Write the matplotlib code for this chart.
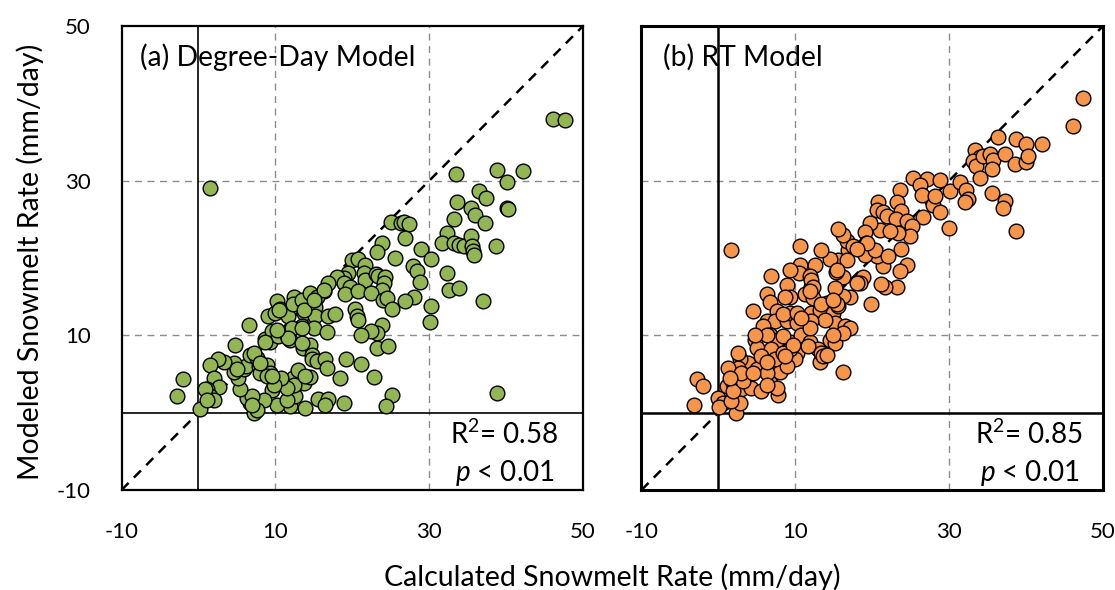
import matplotlib
matplotlib.use("Agg")
import matplotlib.pyplot as plt

plt.rcParams['font.family'] = ['Lato', 'DejaVu Sans']
plt.rcParams['mathtext.fontset'] = 'custom'
plt.rcParams['mathtext.rm'] = 'Lato'
plt.rcParams['mathtext.it'] = 'Lato:italic'

# ---------------- data ----------------
ticks = [-10, 10, 30, 50]
tick_labels = ["-10", "10", "30", "50"]
grid_vals = [10, 30]
panel_titles = ["(a) Degree-Day Model", "(b) RT Model"]
r2_texts = ["R$^2$= 0.58", "R$^2$= 0.85"]
p_text = "$p$ < 0.01"
xlabel = "Calculated Snowmelt Rate (mm/day)"
ylabel = "Modeled Snowmelt Rate (mm/day)"

dd_calc = [46.1, 47.6, 33.5, 38.8, 42.2, 40.1, 1.5, 36.4, 37.4, 33.6, 35.4, 40.1, 40.2, 36.0, 33.2, 37.3,
           25.0, 26.3, 26.7, 27.3, 26.9, 32.3, 31.7, 33.2, 33.9, 34.5, 35.4, 35.6, 35.7, 35.8, 38.7, 23.9,
           23.2, 28.9, 25.5, 30.2, 20.0, 20.8, 21.6, 21.5, 21.7, 19.4, 18.9, 18.0, 16.9, 16.3, 23.1, 23.4,
           24.3, 24.1, 23.9, 27.9, 28.4, 28.8, 32.3, 32.6, 33.9, 37.0, 28.0, 26.8, 30.2, 30.1, 18.9, 19.7,
           19.1, 20.8, 22.4, 24.0, 24.5, 25.2, 20.4, 20.6, 20.7, 23.9, 23.2, 22.4, 21.1, 23.2, 24.6, 21.1,
           22.8, 25.2, 24.4, 38.8, 19.2, 18.4, 18.9, 16.7, 15.5, 16.9, 16.5, 13.9, 11.9, 12.6, 10.2, 11.5,
           13.7, 14.5, 12.3, 13.0, 12.4, 11.5, 10.7, 9.5, 9.8, 8.5, 7.2, 7.6, 6.7, 6.3, 6.9, 5.4,
           5.2, 5.9, 6.2, 4.6, 4.6, 6.7, 7.6, 7.9, 8.9, 9.3, 8.0, 8.9, 3.3, 2.6, 1.5, 2.0,
           2.7, 1.1, 1.5, 2.0, 0.9, 0.2, -2.0, -2.8, 4.7, 6.6, 8.7, 9.3, 9.5, 10.4, 11.5, 11.9,
           9.1, 10.0, 10.2, 10.6, 11.7, 12.4, 12.3, 13.5, 13.7, 13.5, 12.2, 14.5, 15.4, 15.2, 15.2, 15.0,
           16.7, 16.9, 17.8, 16.3, 13.6, 14.5, 14.8, 14.8, 15.4, 16.5, 16.7,
           9.6, 13.9, 7.2, 8.0, 13.5, 5.0, 7.0, 1.1, 10.5, 13.7, 15.0, 13.5, 11.7, 10.2, 8.7]
dd_model = [38.0, 37.9, 30.8, 31.4, 31.2, 29.8, 29.1, 28.7, 27.8, 27.2, 26.4, 26.5, 26.3, 25.6, 25.1, 24.5,
            24.7, 24.5, 24.6, 24.4, 22.6, 23.2, 22.0, 22.0, 21.7, 21.6, 22.8, 21.6, 20.9, 20.4, 21.6, 21.9,
            20.8, 21.2, 20.0, 19.9, 19.7, 19.9, 19.1, 18.1, 17.2, 18.1, 17.4, 17.6, 16.8, 15.7, 17.9, 17.7,
            17.6, 16.8, 15.9, 19.0, 18.3, 16.9, 18.1, 15.8, 16.1, 14.4, 15.0, 14.5, 13.8, 11.7, 16.8, 16.3,
            15.4, 15.7, 15.5, 14.6, 14.8, 13.4, 13.4, 12.5, 12.0, 11.3, 10.3, 10.5, 10.1, 8.4, 8.6, 6.3,
            4.6, 2.3, 0.8, 2.5, 6.9, 4.5, 1.3, 1.7, 1.8, 1.8, 1.0, 0.6, 0.9, 2.1, 1.0, 1.7,
            3.8, 4.6, 4.5, 5.5, 3.6, 3.2, 4.5, 2.9, 3.6, 1.7, 0.0, 0.4, 1.3, 1.9, 2.1, 3.0,
            4.5, 5.6, 6.0, 5.3, 6.4, 7.4, 7.1, 6.0, 6.2, 5.1, 5.1, 4.7, 6.6, 6.9, 6.2, 4.5,
            3.3, 3.1, 2.1, 1.7, 3.0, 0.5, 4.4, 2.2, 8.7, 11.3, 9.5, 9.2, 10.5, 9.9, 10.1, 9.4,
            12.5, 12.9, 14.4, 13.4, 12.5, 14.9, 14.0, 14.6, 12.9, 11.2, 11.0, 15.5, 15.0, 13.7, 12.5, 10.9,
            10.4, 12.5, 12.8, 15.9, 8.4, 8.8, 7.5, 6.9, 6.7, 6.9, 5.8,
            4.7, 4.7, 7.7, 6.4, 9.0, 5.6, 1.0, 1.7, 13.3, 13.3, 14.6, 11.0, 9.7, 10.7, 9.2]

rt_calc = [47.4, 46.1, 36.4, 38.7, 40.0, 42.1, 33.3, 34.0, 33.1, 33.5, 34.4, 35.3, 35.7, 35.5, 34.0, 37.2,
           38.5, 40.0, 40.3, 35.6, 37.2, 37.0, 38.7, 25.3, 27.1, 26.2, 28.8, 26.4, 30.1, 31.4, 32.2, 32.5,
           32.0, 30.0, 27.9, 28.8, 26.6, 23.6, 23.2, 20.8, 20.6, 21.4, 21.9, 23.8, 23.1, 24.5, 25.1, 24.9,
           23.4, 21.0, 22.3, 19.7, 19.0, 19.2, 18.4, 16.9, 16.7, 16.2, 15.5, 23.8, 24.5, 23.6, 23.2, 21.6,
           21.2, 19.9, 21.4, 20.6, 19.0, 20.3, 18.8, 18.4, 17.1, 16.2, 16.2, 15.3, 15.2, 15.5, 14.5, 13.4,
           12.6, 10.6, 10.5, 10.6, 9.3, 8.9, 11.9, 12.1, 11.3, 12.3, 9.3, 8.7, 6.9, 6.3, 6.7, 7.6,
           6.3, 7.4, 8.9, 9.3, 10.2, 12.1, 13.2, 14.1, 14.9, 15.2, 16.5, 17.1, 14.5, 15.2, 4.5, 5.8,
           6.7, 4.8, 5.0, 8.2, 9.3, 10.8, 11.9, 13.0, 13.2, 10.2, 10.0, 8.0, 7.1, 8.0, 5.8, 3.9,
           2.8, 2.6, 1.3, 1.1, 1.9, 3.0, 3.7, 4.3, 5.6, 6.7, 7.8, 7.6, 16.2, 1.7, -2.8, -2.0,
           -3.2, 0.0, 0.6, 0.1, 2.3, 2.8, 7.6, 6.3, 6.9, 8.9, 15.6, 13.9, 16.2,
           17.5, 16.7, 15.4, 18.0, 12.1, 12.3, 8.4, 10.2, 12.1, 15.4, 8.4, 11.9,
           1.7, 1.9, 3.2, 3.0, 5.0, 6.3, 7.4, 5.6, 4.8, 9.3, 8.4, 11.7, 13.4, 14.9, 2.6,
           28.1, 19.3, 22.1, 18.0,
           11.9, 10.8, 13.4, 14.9, 9.7, 13.6, 14.1, 8.7, 6.3, 1.5, 4.5, 6.3]
rt_model = [40.7, 37.1, 35.7, 35.4, 34.8, 34.8, 34.0, 33.1, 32.5, 31.9, 33.2, 33.4, 32.7, 31.5, 30.4, 33.5,
            32.1, 32.4, 33.2, 28.4, 27.4, 26.5, 23.5, 30.3, 30.2, 29.5, 30.1, 28.1, 28.6, 29.8, 28.8, 27.6,
            27.2, 23.9, 26.9, 25.9, 25.3, 28.8, 27.2, 27.2, 26.2, 25.9, 25.4, 26.1, 25.1, 24.8, 24.1, 22.8,
            23.2, 23.6, 23.5, 24.5, 23.4, 21.9, 21.3, 21.0, 22.2, 23.0, 23.8, 21.1, 19.1, 18.3, 16.3, 16.3,
            16.6, 14.0, 18.9, 20.2, 20.4, 21.0, 17.6, 16.8, 15.0, 15.1, 17.6, 18.2, 16.1, 19.8, 19.9, 21.0,
            19.1, 19.1, 18.1, 21.5, 18.4, 16.5, 17.7, 16.3, 15.3, 14.8, 15.0, 15.0, 17.7, 15.3, 14.3, 13.1,
            11.8, 11.8, 11.8, 12.9, 11.6, 12.9, 13.3, 14.2, 12.9, 11.6, 11.2, 11.0, 9.4, 9.0, 13.1, 11.2,
            10.1, 9.4, 8.4, 9.4, 9.2, 10.0, 9.2, 8.2, 6.6, 7.7, 6.9, 7.5, 6.4, 5.3, 5.8, 6.4,
            6.9, 5.8, 5.8, 3.4, 3.8, 3.0, 4.5, 3.2, 2.8, 3.8, 2.3, 3.2, 5.2, 21.0, 4.3, 3.4,
            1.0, 1.9, 1.2, 0.7, -0.1, 1.3, 9.4, 10.1, 8.2, 6.0, 13.8, 12.0, 10.3,
            21.5, 19.8, 18.5, 16.8, 17.2, 16.3, 12.7, 12.9, 11.8, 14.0, 9.9, 11.0,
            1.5, 2.8, 4.1, 5.1, 5.6, 5.1, 6.9, 7.3, 10.1, 8.2, 7.7, 8.6, 7.7, 10.1, 7.7,
            28.0, 22.0, 20.2, 21.1,
            15.7, 12.2, 14.0, 14.6, 8.8, 7.3, 7.5, 7.3, 6.6, 4.5, 5.1, 3.6]

series = [(dd_calc, dd_model, "#93B655"), (rt_calc, rt_model, "#F7954A")]

# ---------------- figure ----------------
fig = plt.figure(figsize=(11.15, 5.90), dpi=100)
lefts = [0.109, 0.5753]
for i, (xs, ys, color) in enumerate(series):
    ax = fig.add_axes([lefts[i], 0.1695, 0.414, 0.7865])
    lo, hi = ticks[0], ticks[-1]
    ax.set_xlim(lo, hi)
    ax.set_ylim(lo, hi)
    for g in grid_vals:
        ax.axvline(g, color="#8c8c8c", lw=1.0, ls=(0, (5, 4)), zorder=1)
        ax.axhline(g, color="#8c8c8c", lw=1.0, ls=(0, (5, 4)), zorder=1)
    zlw = 1.2 if i == 0 else 1.8
    ax.axvline(0, color="black", lw=zlw, zorder=2)
    ax.axhline(0, color="black", lw=zlw, zorder=2)
    ax.plot([lo, hi], [lo, hi], color="black", lw=1.8, ls=(0, (4, 3)), zorder=2)
    ax.scatter(xs, ys, s=112, c=color, edgecolors="black", linewidths=1.0, zorder=3)

    ax.set_xticks(ticks)
    ax.set_xticklabels(tick_labels, fontsize=16)
    ax.set_yticks(ticks)
    if i == 0:
        ax.set_yticklabels(tick_labels, fontsize=16)
    else:
        ax.set_yticklabels([])
    ax.tick_params(axis="both", length=0)
    ax.tick_params(axis="x", pad=23)
    ax.tick_params(axis="y", pad=22)
    for sp in ax.spines.values():
        sp.set_linewidth(1.6 if i == 0 else 2.2)
        sp.set_color("black")

    tx = 0.040 if i == 0 else 0.047
    ax.text(tx, 0.933, panel_titles[i], transform=ax.transAxes, fontsize=20.3,
            ha="left", va="center", zorder=5)
    rx = 0.946 if i == 0 else 0.957
    ax.text(rx, 0.119, r2_texts[i], transform=ax.transAxes, fontsize=20,
            ha="right", va="center", zorder=5)
    ax.text(rx - 0.008, 0.037, p_text, transform=ax.transAxes, fontsize=20,
            ha="right", va="center", zorder=5)

fig.text(0.549, 0.022, xlabel, ha="center", va="center", fontsize=20.5)
fig.text(0.027, 0.556, ylabel, ha="center", va="center", rotation=90, fontsize=20.5)

fig.savefig("out.png", dpi=100)
